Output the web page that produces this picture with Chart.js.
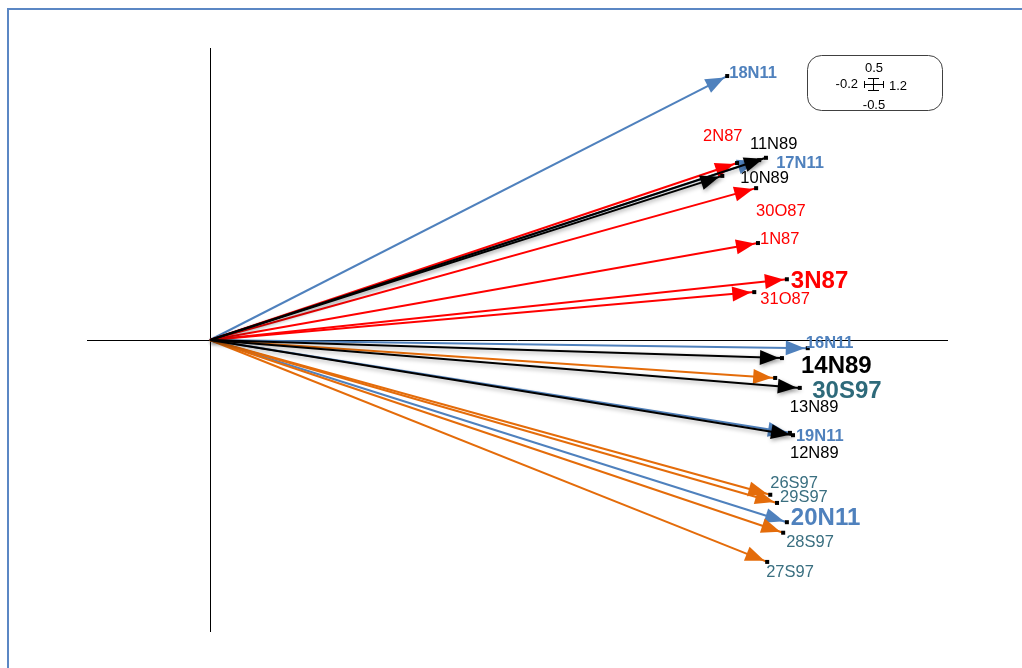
<!DOCTYPE html>
<html>
<head>
<meta charset="utf-8">
<script src="https://cdn.jsdelivr.net/npm/chart.js@4/dist/chart.umd.min.js"></script>
<style>
  html, body { margin: 0; padding: 0; background: #fff; }
  #wrap { position: relative; width: 1022px; height: 668px; }
  #frame { position: absolute; left: 7px; top: 8px; width: 1030px; height: 700px;
           border-left: 2px solid #5b87c4; border-top: 2px solid #5b87c4; box-sizing: border-box; }
  canvas { position: absolute; left: 0; top: 0; }
</style>
</head>
<body>
<div id="wrap">
  <div id="frame"></div>
  <canvas id="c" width="1022" height="668"></canvas>
</div>
<script>
// Biplot vectors: each sample is an arrow from the origin to (x, y)
const names  = ['18N11','17N11','16N11','19N11','20N11',
                '2N87','30O87','1N87','3N87','31O87',
                '30S97','26S97','29S97','28S97','27S97',
                '11N89','10N89','14N89','13N89','12N89'];
const xVals  = [0.841, 0.893, 0.972, 0.943, 0.938,
                0.857, 0.888, 0.891, 0.938, 0.885,
                0.919, 0.911, 0.922, 0.932, 0.906,
                0.904, 0.833, 0.930, 0.959, 0.948];
const yVals  = [0.452, 0.308, -0.014, -0.159, -0.312,
                0.303, 0.260, 0.166, 0.104, 0.082,
                -0.065, -0.265, -0.279, -0.330, -0.380,
                0.312, 0.281, -0.031, -0.082, -0.163];
const groups = ['N11','N11','N11','N11','N11',
                'N87','N87','N87','N87','N87',
                'S97','S97','S97','S97','S97',
                'N89','N89','N89','N89','N89'];
// axis extents shown in the key box
const xRange = [-0.2, 1.2];
const yRange = [-0.5, 0.5];

// styling
const lineColor  = { N11: '#4f81bd', N87: '#ff0000', S97: '#e46c0a', N89: '#000000' };
const labelColor = { N11: '#4f81bd', N87: '#ff0000', S97: '#3a6f80', N89: '#000000' };
const bigLabels  = { '3N87': '#ff0000', '14N89': '#000000', '30S97': '#2e6a7a', '20N11': '#4f81bd' };
const boldLabels = ['18N11','17N11','16N11','19N11'];
// label offset from the arrow tip, in px (left edge, vertical centre)
const labelOffset = {
  '18N11': [2, -3],  '17N11': [17, 3],  '16N11': [-2, -5], '19N11': [6, 4],  '20N11': [4, -4],
  '2N87': [-34, -27], '30O87': [0, 23], '1N87': [2, -4],  '3N87': [4, 2],   '31O87': [6, 7],
  '30S97': [37, 13], '26S97': [0, -11], '29S97': [3, -5], '28S97': [3, 10], '27S97': [-1, 11],
  '11N89': [-16, -13], '10N89': [18, 3], '14N89': [19, 8], '13N89': [-10, 20], '12N89': [-3, 18]
};

// Chart.js paints the first dataset on top, so reverse to keep N89 uppermost
const datasets = names.map((n, i) => ({
  label: n,
  group: groups[i],
  data: [{ x: 0, y: 0 }, { x: xVals[i], y: yVals[i] }],
  showLine: true,
  borderColor: lineColor[groups[i]],
  backgroundColor: lineColor[groups[i]],
  borderWidth: 2,
  pointRadius: 0,
  pointHoverRadius: 0
})).reverse();

const FONT = 'Arial, "Liberation Sans", sans-serif';

const biplot = {
  id: 'biplot',
  beforeDatasetsDraw(chart) {
    const { ctx, chartArea: a, scales: { x, y } } = chart;
    ctx.save();
    ctx.strokeStyle = '#000';
    ctx.lineWidth = 1;
    const x0 = Math.round(x.getPixelForValue(0)) + 0.5;
    const y0 = Math.round(y.getPixelForValue(0)) + 0.5;
    ctx.beginPath();
    ctx.moveTo(x0, a.top); ctx.lineTo(x0, a.bottom);
    ctx.moveTo(a.left, y0); ctx.lineTo(a.right, y0);
    ctx.stroke();
    ctx.restore();
  },
  beforeDatasetDraw(chart, args) {
    const ds = chart.data.datasets[args.index];
    const ctx = chart.ctx;
    ctx.save();
    if (ds.group === 'N89') {
      ctx.shadowColor = 'rgba(0,0,0,0.35)';
      ctx.shadowBlur = 4;
      ctx.shadowOffsetX = 1;
      ctx.shadowOffsetY = 2;
    }
  },
  afterDatasetDraw(chart, args) {
    const ds = chart.data.datasets[args.index];
    const { ctx, scales: { x, y } } = chart;
    const p0 = ds.data[0], p1 = ds.data[1];
    const sx = x.getPixelForValue(p0.x), sy = y.getPixelForValue(p0.y);
    const ex = x.getPixelForValue(p1.x), ey = y.getPixelForValue(p1.y);
    const ang = Math.atan2(ey - sy, ex - sx);
    const tipX = ex - 3 * Math.cos(ang), tipY = ey - 3 * Math.sin(ang);
    const len = 19, hw = 7.5;
    const bx = tipX - len * Math.cos(ang), by = tipY - len * Math.sin(ang);
    ctx.fillStyle = ds.borderColor;
    ctx.beginPath();
    ctx.moveTo(tipX, tipY);
    ctx.lineTo(bx + hw * Math.sin(ang), by - hw * Math.cos(ang));
    ctx.lineTo(bx - hw * Math.sin(ang), by + hw * Math.cos(ang));
    ctx.closePath();
    ctx.fill();
    ctx.restore();
    // tip marker
    ctx.save();
    ctx.fillStyle = '#000';
    ctx.fillRect(ex - 2, ey - 2, 4, 4);
    ctx.restore();
  },
  afterDraw(chart) {
    const { ctx, scales: { x, y } } = chart;
    ctx.save();
    ctx.textBaseline = 'middle';
    ctx.textAlign = 'left';
    chart.data.datasets.forEach(ds => {
      const n = ds.label;
      const p = ds.data[1];
      const off = labelOffset[n] || [4, 0];
      const px = x.getPixelForValue(p.x) + off[0];
      const py = y.getPixelForValue(p.y) + off[1];
      if (bigLabels[n]) {
        ctx.font = 'bold 24px ' + FONT;
        ctx.fillStyle = bigLabels[n];
      } else if (boldLabels.includes(n)) {
        ctx.font = 'bold 16.5px ' + FONT;
        ctx.fillStyle = labelColor[ds.group];
      } else {
        ctx.font = '16.5px ' + FONT;
        ctx.fillStyle = labelColor[ds.group];
      }
      ctx.fillText(n, px, py);
    });

    // key box showing the axis extents
    const bx = 807, by = 55, bw = 135, bh = 55, r = 14;
    ctx.strokeStyle = '#404040';
    ctx.lineWidth = 1;
    ctx.beginPath();
    ctx.roundRect(bx + 0.5, by + 0.5, bw, bh, r);
    ctx.stroke();
    const cx = 874, cy = 84;
    ctx.strokeStyle = '#000';
    ctx.beginPath();
    ctx.moveTo(cx - 10, cy + 0.5); ctx.lineTo(cx + 10, cy + 0.5);
    ctx.moveTo(cx - 9.5, cy - 3); ctx.lineTo(cx - 9.5, cy + 4);
    ctx.moveTo(cx + 9.5, cy - 3); ctx.lineTo(cx + 9.5, cy + 4);
    ctx.moveTo(cx - 0.5, cy - 6); ctx.lineTo(cx - 0.5, cy + 6);
    ctx.moveTo(cx - 6, cy - 5.5); ctx.lineTo(cx + 5, cy - 5.5);
    ctx.moveTo(cx - 6, cy + 6.5); ctx.lineTo(cx + 5, cy + 6.5);
    ctx.stroke();
    ctx.fillStyle = '#000';
    ctx.font = '13px ' + FONT;
    ctx.textAlign = 'center';
    ctx.fillText(String(yRange[1]), cx, by + 13);
    ctx.fillText(String(yRange[0]), cx, by + 50);
    ctx.textAlign = 'right';
    ctx.fillText(String(xRange[0]), cx - 16, cy);
    ctx.textAlign = 'left';
    ctx.fillText(String(xRange[1]), cx + 15, cy + 2);
    ctx.restore();
  }
};

new Chart(document.getElementById('c'), {
  type: 'scatter',
  data: { datasets },
  options: {
    responsive: false,
    animation: false,
    layout: { padding: { left: 87, right: 74, top: 48, bottom: 36 } },
    plugins: { legend: { display: false }, tooltip: { enabled: false } },
    scales: {
      x: { type: 'linear', min: xRange[0], max: xRange[1], display: false },
      y: { type: 'linear', min: yRange[0], max: yRange[1], display: false }
    }
  },
  plugins: [biplot]
});
</script>
</body>
</html>
